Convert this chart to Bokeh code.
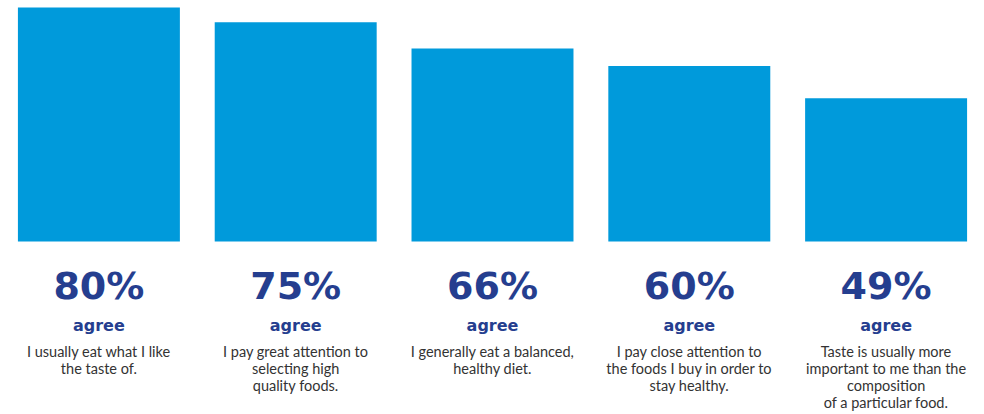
from bokeh.plotting import figure
from bokeh.models import ColumnDataSource, Range1d
from bokeh.core.properties import value
from bokeh.embed import file_html
from bokeh.resources import INLINE

statements = [
    "I usually eat what I like\nthe taste of.",
    "I pay great attention to\nselecting high\nquality foods.",
    "I generally eat a balanced,\nhealthy diet.",
    "I pay close attention to\nthe foods I buy in order to\nstay healthy.",
    "Taste is usually more\nimportant to me than the\ncomposition\nof a particular food.",
]
agree_pct = [80, 75, 66, 60, 49]

xs = list(range(len(agree_pct)))
src = ColumnDataSource(dict(
    x=xs,
    top=agree_pct,
    zero=[0] * len(xs),
    pct=[f"{v}%" for v in agree_pct],
    agree=["agree"] * len(xs),
    desc=statements,
))

p = figure(width=984, height=414, output_backend="svg", toolbar_location=None,
           x_range=Range1d(-0.5, 4.5), y_range=Range1d(-59.15, 82.4),
           min_border=0, outline_line_color=None, background_fill_color="white",
           border_fill_color="white")
p.axis.visible = False
p.grid.visible = False

p.vbar(x="x", top="top", bottom=0, width=0.823, source=src,
       fill_color="#009ADB", line_color=None)

p.text(x="x", y="zero", text="pct", source=src, text_align="center",
       text_baseline="alphabetic", y_offset=44,
       text_font=value("DejaVu Sans"), text_font_style="bold",
       text_font_size="38px", text_color="#253E8F")
p.text(x="x", y="zero", text="agree", source=src, text_align="center",
       text_baseline="alphabetic", y_offset=84,
       text_font=value("DejaVu Sans"), text_font_style="bold",
       text_font_size="16px", text_color="#253E8F")
p.text(x="x", y="zero", text="desc", source=src, text_align="center",
       text_baseline="top", y_offset=101, text_line_height=1.0,
       text_font=value("Lato"), text_font_size="14.5px", text_color="#333333")

open("out.html", "w").write(file_html(p, INLINE))
